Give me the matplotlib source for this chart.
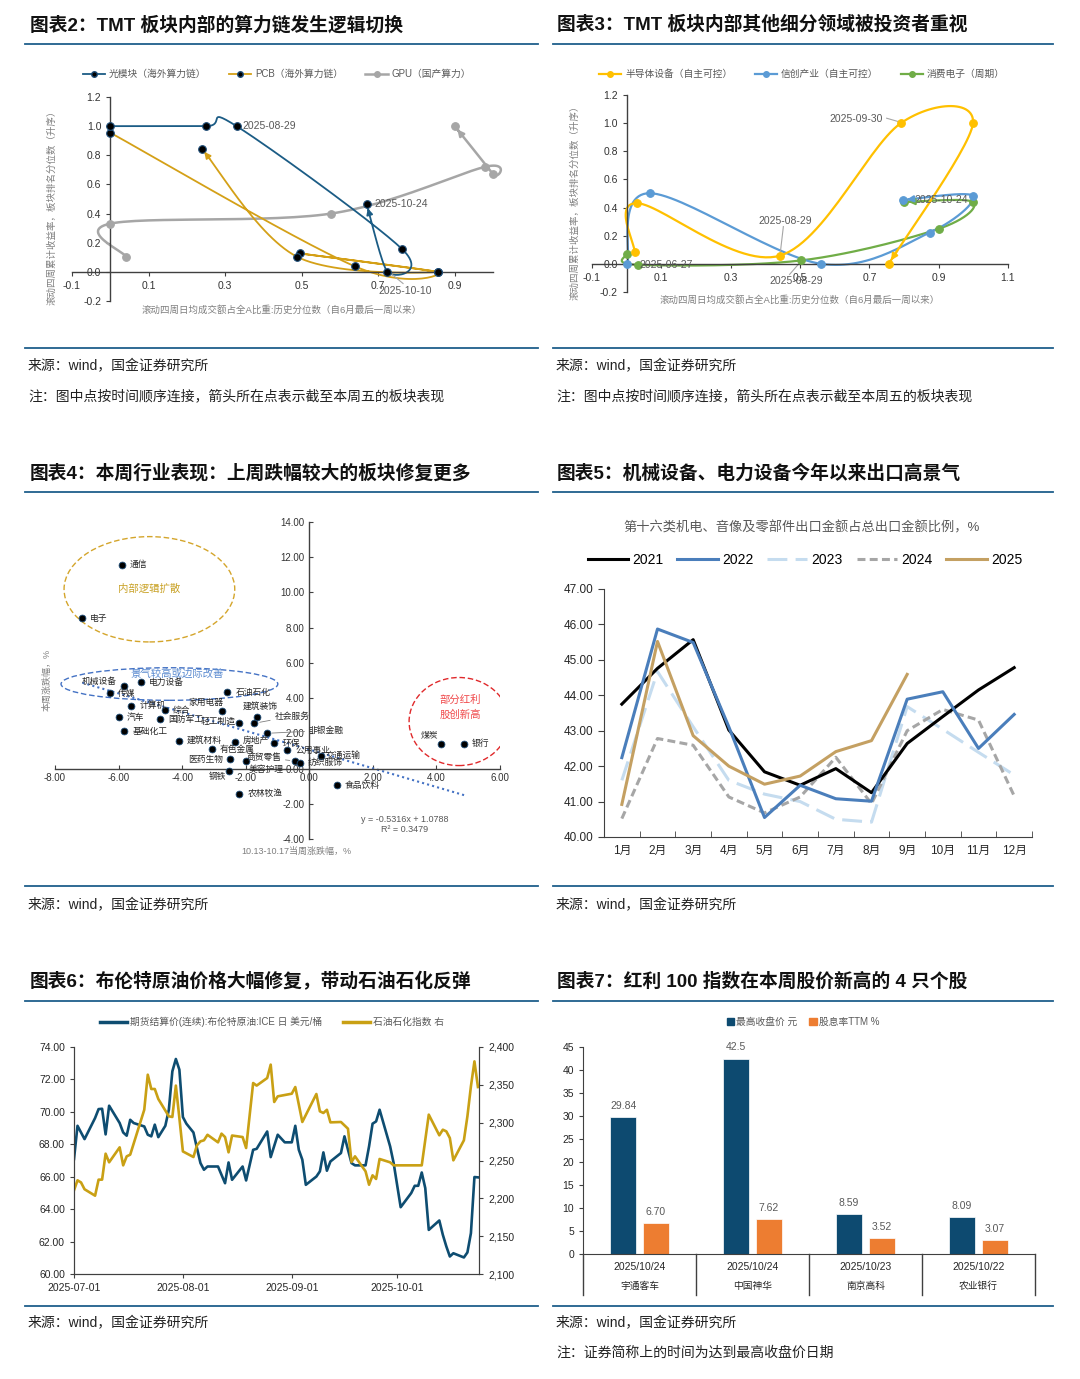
import numpy as np
import pandas as pd
import matplotlib
matplotlib.use("Agg")
import matplotlib.pyplot as plt
from matplotlib.lines import Line2D
from matplotlib.patches import Ellipse, Patch
import matplotlib.transforms as mtransforms
import matplotlib.dates as mdates

plt.rcParams["font.family"] = ["Liberation Sans", "Noto Sans CJK SC", "DejaVu Sans"]
plt.rcParams["axes.unicode_minus"] = False

# ---------------- data ----------------
# 图表2
gmk_x = [0.0, 0.25, 0.33, 0.763, 0.724, 0.67]
gmk_y = [1.0, 1.0, 1.0, 0.155, 0.0, 0.464]
pcb_x = [0.0, 0.64, 0.855, 0.496, 0.855, 0.487, 0.239]
pcb_y = [0.955, 0.037, 0.0, 0.126, 0.0, 0.105, 0.846]
gpu_x = [0.042, 0.0, 0.577, 0.978, 1.0, 0.90]
gpu_y = [0.103, 0.331, 0.40, 0.72, 0.67, 1.0]

# 图表3
semi_x = [0.023, 0.030, 0.443, 0.791, 0.999, 0.756]
semi_y = [0.085, 0.431, 0.059, 1.0, 1.0, 0.0]
xc_x = [0.002, 0.066, 0.561, 0.874, 0.999, 0.796]
xc_y = [0.0, 0.502, 0.0, 0.222, 0.483, 0.454]
ce_x = [0.0, 0.032, 0.502, 0.90, 0.999, 0.80]
ce_y = [0.071, -0.007, 0.024, 0.249, 0.44, 0.44]

# 图表4
industries = ['通信', '电子', '机械设备', '电力设备', '传媒', '计算机', '综合', '汽车', '国防军工',
              '基础化工', '石油石化', '家用电器', '轻工制造', '建筑装饰', '社会服务', '非银金融',
              '建筑材料', '房地产', '环保', '有色金属', '公用事业', '医药生物', '商贸零售',
              '纺织服饰', '交通运输', '美容护理', '钢铁', '农林牧渔', '食品饮料', '煤炭', '银行']
last_week = [-5.90, -7.14, -5.83, -5.29, -6.27, -5.60, -4.55, -5.99, -4.70,
             -5.82, -2.58, -2.75, -2.20, -1.66, -1.73, -1.34,
             -4.10, -2.33, -1.10, -3.06, -0.69, -2.48, -0.44,
             -0.29, 0.37, -2.00, -2.53, -2.20, 0.86, 4.15, 4.87]
this_week = [11.58, 8.53, 4.70, 4.91, 4.29, 3.56, 3.30, 2.90, 2.80,
             2.13, 4.32, 3.28, 2.61, 2.90, 2.57, 2.00,
             1.58, 1.49, 1.43, 1.09, 1.05, 0.53, 0.42,
             0.32, 0.70, 0.42, -0.13, -1.43, -0.95, 1.38, 1.42]
trend_k, trend_b = -0.5316, 1.0788

# 图表5
months = ['1月', '2月', '3月', '4月', '5月', '6月', '7月', '8月', '9月', '10月', '11月', '12月']
exp_2021 = [43.75, 44.76, 45.57, 43.02, 41.84, 41.46, 41.93, 41.25, 42.64, 43.40, 44.15, 44.78]
exp_2022 = [42.24, 45.87, 45.49, 43.11, 40.55, 41.46, 41.08, 41.01, 43.89, 44.10, 42.50, 43.46]
exp_2023 = [41.60, 44.67, 43.11, 41.60, 41.21, 41.00, 40.50, 40.42, 43.68, 43.04, 42.39, 41.75]
exp_2024 = [40.52, 42.78, 42.59, 41.13, 40.68, 41.13, 42.25, 40.94, 43.00, 43.60, 43.30, 41.16]
exp_2025 = [40.92, 45.52, 42.86, 42.00, 41.49, 41.72, 42.41, 42.72, 44.59]

# 图表6 (day offset from 2025-07-01)
oil_day = [0, 1, 3, 6, 7, 8, 9, 10, 13, 14, 15, 16, 17, 20, 21, 22, 23, 24, 26, 27,
           28, 29, 30, 31, 32, 34, 35, 36, 37, 38, 41, 43, 44, 45, 48, 49, 51, 52, 55, 56,
           58, 60, 62, 63, 64, 65, 66, 69, 70, 71, 72, 73, 76, 77, 79, 80, 83, 84, 85, 86,
           87, 90, 91, 93, 96, 97, 98, 99, 100, 101, 104, 105, 106, 107, 108, 111, 112, 113, 114, 115]
oil_price = [67.09, 69.14, 68.32, 69.62, 70.17, 70.19, 68.61, 70.38, 69.31, 68.73, 68.53, 69.51, 69.31, 69.10, 68.59, 68.49, 69.21, 68.44, 69.14, 70.13,
             72.50, 73.26, 72.60, 69.68, 69.27, 68.73, 67.77, 66.84, 66.43, 66.63, 66.63, 65.60, 66.88, 65.81, 66.63, 65.77, 67.66, 67.72, 68.79, 67.21,
             68.59, 68.12, 68.12, 69.14, 67.66, 67.05, 65.50, 66.01, 66.33, 67.50, 66.37, 66.94, 67.46, 68.49, 66.84, 66.70, 66.70, 67.87, 69.27, 69.41,
             70.13, 67.87, 66.84, 64.12, 64.99, 65.44, 65.44, 66.26, 65.30, 62.72, 63.30, 62.42, 61.70, 61.08, 61.28, 61.02, 61.33, 62.52, 65.98, 65.96]
idx_day = [0, 1, 2, 3, 6, 7, 8, 9, 10, 13, 14, 15, 16, 20, 21, 22, 23, 24, 27, 28,
           29, 30, 31, 34, 35, 36, 37, 38, 41, 42, 43, 44, 45, 48, 49, 51, 52, 55, 56, 57,
           58, 62, 63, 65, 69, 70, 71, 72, 73, 76, 78, 79, 80, 83, 84, 85, 86, 87, 90, 91,
           99, 101, 104, 105, 106, 107, 108, 111, 112, 113, 114, 115]
idx_val = [2210.6, 2223.8, 2221.0, 2212.0, 2203.5, 2224.7, 2224.7, 2259.0, 2247.6, 2267.4, 2243.6, 2255.5, 2257.7, 2317.0, 2363.4, 2344.5, 2344.5, 2331.3, 2308.4, 2307.5,
           2349.0, 2306.0, 2262.0, 2254.6, 2270.0, 2275.3, 2276.7, 2284.0, 2274.0, 2285.5, 2281.0, 2260.8, 2283.0, 2281.0, 2266.5, 2352.4, 2349.0, 2359.0, 2376.7, 2327.3,
           2334.8, 2338.3, 2347.1, 2300.9, 2337.9, 2315.0, 2312.8, 2317.0, 2300.4, 2300.9, 2292.0, 2248.0, 2255.5, 2235.7, 2218.0, 2230.4, 2225.6, 2252.0, 2247.6, 2243.6,
           2243.6, 2310.6, 2283.3, 2290.7, 2288.5, 2279.7, 2250.2, 2276.7, 2308.4, 2348.0, 2381.0, 2347.1]

# 图表7
stocks = ['宇通客车', '中国神华', '南京高科', '农业银行']
high_dates = ['2025/10/24', '2025/10/24', '2025/10/23', '2025/10/22']
high_close = [29.84, 42.5, 8.59, 8.09]
div_yield = [6.70, 7.62, 3.52, 3.07]
high_close_lbl = ['29.84', '42.5', '8.59', '8.09']
div_yield_lbl = ['6.70', '7.62', '3.52', '3.07']

# ---------------- layout helpers ----------------
W, H = 1080, 1379
fig = plt.figure(figsize=(W / 100, H / 100), dpi=100)
RULE = '#1F5F8B'
GRAY = '#595959'
LGRAY = '#7F7F7F'


def box(l, t, w, h):
    return fig.add_axes([l / W, 1 - (t + h) / H, w / W, h / H])


def txt(x, y, s, **kw):
    kw.setdefault('va', 'center')
    return fig.text(x / W, 1 - y / H, s, **kw)


def rule(y, x0, x1):
    fig.add_artist(Line2D([x0 / W, x1 / W], [1 - y / H] * 2, color=RULE, lw=1.3))


def catmull(xs, ys, sx, sy, n=30):
    p = np.column_stack([np.asarray(xs) * sx, np.asarray(ys) * sy])
    p = np.vstack([p[0], p, p[-1]])
    t = np.linspace(0, 1, n)[:, None]
    segs = []
    for i in range(1, len(p) - 2):
        p0, p1, p2, p3 = p[i - 1], p[i], p[i + 1], p[i + 2]
        segs.append(0.5 * (2 * p1 + (p2 - p0) * t + (2 * p0 - 5 * p1 + 4 * p2 - p3) * t ** 2
                           + (3 * p1 - p0 - 3 * p2 + p3) * t ** 3))
    c = np.vstack(segs)
    return c[:, 0] / sx, c[:, 1] / sy


def track(ax, xs, ys, color, mfc, mec, sx, sy, lw=1.3, ms=5.5):
    cx, cy = catmull(xs, ys, sx, sy)
    ax.plot(cx, cy, color=color, lw=lw, zorder=2, solid_capstyle='round', clip_on=False)
    ax.plot(xs, ys, 'o', ms=ms, mfc=mfc, mec=mec, mew=0.8, ls='none', zorder=3, clip_on=False)
    ax.annotate('', xy=(cx[-1], cy[-1]), xytext=(cx[-5], cy[-5]),
                arrowprops=dict(arrowstyle='-|>', color=color, lw=lw, mutation_scale=9,
                                shrinkA=0, shrinkB=3), zorder=4)


def zero_axes(ax):
    ax.spines['left'].set_position(('data', 0))
    ax.spines['bottom'].set_position(('data', 0))
    ax.spines['top'].set_visible(False)
    ax.spines['right'].set_visible(False)
    for s in ('left', 'bottom'):
        ax.spines[s].set_color('#404040')
        ax.spines[s].set_linewidth(1.0)
    ax.patch.set_alpha(0)


# ---------------- frame texts ----------------
titles = [(30, 25, '图表2：TMT 板块内部的算力链发生逻辑切换'),
          (557, 25, '图表3：TMT 板块内部其他细分领域被投资者重视'),
          (30, 473, '图表4：本周行业表现：上周跌幅较大的板块修复更多'),
          (557, 473, '图表5：机械设备、电力设备今年以来出口高景气'),
          (30, 982, '图表6：布伦特原油价格大幅修复，带动石油石化反弹'),
          (557, 982, '图表7：红利 100 指数在本周股价新高的 4 只个股')]
for x, y, s in titles:
    txt(x, y, s, fontsize=13.5, fontweight='bold', color='#111111')
for y in (44, 348, 492, 886, 1001, 1306):
    rule(y, 25, 538)
    rule(y, 553, 1053)
src = '来源：wind，国金证券研究所'
for x in (28, 556):
    txt(x, 366, src, fontsize=10, color='#222222')
    txt(x, 396, '注：图中点按时间顺序连接，箭头所在点表示截至本周五的板块表现', fontsize=10, color='#222222')
    txt(x, 905, src, fontsize=10, color='#222222')
    txt(x, 1323, src, fontsize=10, color='#222222')
txt(556, 1353, '注：证券简称上的时间为达到最高收盘价日期', fontsize=10, color='#222222')

# ---------------- 图表2 ----------------
ax1 = box(72, 97, 421, 204)
ax1.set_xlim(-0.1, 1.0)
ax1.set_ylim(-0.2, 1.2)
zero_axes(ax1)
sx1, sy1 = 421 / 1.1, 204 / 1.4
track(ax1, gpu_x, gpu_y, '#A6A6A6', '#A6A6A6', '#A6A6A6', sx1, sy1, lw=1.8)
track(ax1, pcb_x, pcb_y, '#D4A017', 'black', '#1F4E79', sx1, sy1)
track(ax1, gmk_x, gmk_y, '#1B5C85', 'black', '#1F4E79', sx1, sy1)
ax1.set_xticks([-0.1, 0.1, 0.3, 0.5, 0.7, 0.9])
ax1.set_xticklabels(['-0.1', '0.1', '0.3', '0.5', '0.7', '0.9'])
yt = np.round(np.arange(-0.2, 1.21, 0.2), 1)
ax1.set_yticks(yt)
ax1.set_yticklabels([f'{v:.1f}' for v in yt])
ax1.tick_params(labelsize=7.5, colors='#404040', length=3, labelcolor='#333333')
ax1.text(0.345, 1.0, '2025-08-29', fontsize=7.5, color=GRAY, va='center')
ax1.text(0.69, 0.465, '2025-10-24', fontsize=7.5, color=GRAY, va='center')
ax1.plot([0.735, 0.765], [-0.015, -0.08], color='#A6A6A6', lw=0.8)
ax1.text(0.77, -0.13, '2025-10-10', fontsize=7.5, color=GRAY, va='center', ha='center')
h1 = [Line2D([], [], color='#1B5C85', marker='o', mfc='black', mec='#1F4E79', ms=4, lw=1.3),
      Line2D([], [], color='#D4A017', marker='o', mfc='black', mec='#1F4E79', ms=4, lw=1.3),
      Line2D([], [], color='#A6A6A6', marker='o', mfc='#A6A6A6', mec='#A6A6A6', ms=4, lw=1.8)]
fig.legend(h1, ['光模块（海外算力链）', 'PCB（海外算力链）', 'GPU（国产算力）'], loc='center',
           bbox_to_anchor=(277 / W, 1 - 74 / H), ncol=3, frameon=False, fontsize=7,
           labelcolor=GRAY, handlelength=2.3, columnspacing=2.3, handletextpad=0.4)
txt(52, 205, '滚动四周累计收益率，板块排名分位数（升序）', fontsize=6.8, color=LGRAY, rotation=90, ha='center')
txt(282, 310, '滚动四周日均成交额占全A比重:历史分位数（自6月最后一周以来）', fontsize=6.8, color=LGRAY, ha='center')

# ---------------- 图表3 ----------------
ax2 = box(592, 95, 416, 197)
ax2.set_xlim(-0.1, 1.1)
ax2.set_ylim(-0.2, 1.2)
zero_axes(ax2)
sx2, sy2 = 416 / 1.2, 197 / 1.4
track(ax2, ce_x, ce_y, '#70AD47', '#70AD47', '#70AD47', sx2, sy2, lw=1.6)
track(ax2, xc_x, xc_y, '#5B9BD5', '#5B9BD5', '#5B9BD5', sx2, sy2, lw=1.6)
track(ax2, semi_x, semi_y, '#FFC000', '#FFC000', '#FFC000', sx2, sy2, lw=1.6)
xt2 = np.round(np.arange(-0.1, 1.11, 0.2), 1)
ax2.set_xticks(xt2)
ax2.set_xticklabels([f'{v:.1f}' for v in xt2])
ax2.set_yticks(yt)
ax2.set_yticklabels([f'{v:.1f}' for v in yt])
ax2.tick_params(labelsize=7.5, colors='#404040', length=3, labelcolor='#333333')
ax2.text(0.74, 1.03, '2025-09-30', fontsize=7.5, color=GRAY, va='center', ha='right')
ax2.plot([0.75, 0.785], [1.035, 1.01], color='#A6A6A6', lw=0.8)
ax2.text(0.457, 0.305, '2025-08-29', fontsize=7.5, color=GRAY, va='center', ha='center')
ax2.plot([0.452, 0.443], [0.265, 0.075], color='#A6A6A6', lw=0.8)
ax2.text(0.49, -0.12, '2025-08-29', fontsize=7.5, color=GRAY, va='center', ha='center')
ax2.plot([0.50, 0.47], [0.01, -0.075], color='#A6A6A6', lw=0.8)
ax2.text(0.036, -0.005, '2025-06-27', fontsize=7.5, color=GRAY, va='center', ha='left')
ax2.text(0.83, 0.455, '2025-10-24', fontsize=7.5, color=GRAY, va='center', ha='left')
h2 = [Line2D([], [], color=c, marker='o', mfc=c, mec=c, ms=4, lw=1.6) for c in ('#FFC000', '#5B9BD5', '#70AD47')]
fig.legend(h2, ['半导体设备（自主可控）', '信创产业（自主可控）', '消费电子（周期）'], loc='center',
           bbox_to_anchor=(802 / W, 1 - 74 / H), ncol=3, frameon=False, fontsize=7,
           labelcolor=GRAY, handlelength=2.3, columnspacing=2.3, handletextpad=0.4)
txt(575, 200, '滚动四周累计收益率，板块排名分位数（升序）', fontsize=6.8, color=LGRAY, rotation=90, ha='center')
txt(800, 300, '滚动四周日均成交额占全A比重:历史分位数（自6月最后一周以来）', fontsize=6.8, color=LGRAY, ha='center')

# ---------------- 图表4 ----------------
ax3 = box(55, 522, 445, 317)
ax3.set_xlim(-8, 6)
ax3.set_ylim(-4, 14)
zero_axes(ax3)
xt3 = np.arange(-8, 6.1, 2)
yt3 = np.arange(-4, 14.1, 2)
ax3.set_xticks(xt3)
ax3.set_xticklabels([f'{v:.2f}' for v in xt3])
ax3.set_yticks(yt3)
ax3.set_yticklabels([f'{v:.2f}' for v in yt3])
ax3.tick_params(direction='in', labelsize=7, colors='#404040', length=3, labelcolor='#333333')
lx = np.array(last_week)
ax3.plot([lx.min(), lx.max()], [trend_k * lx.min() + trend_b, trend_k * lx.max() + trend_b],
         ls=(0, (1, 1.5)), color='#4472C4', lw=1.5, zorder=2)
ax3.scatter(last_week, this_week, s=24, c='black', edgecolors='#1F4E79', linewidths=0.6, zorder=3)
# label placement (offset pixels, alignment, leader)
place = {'机械设备': (-7, 4, 'right'), '医药生物': (-7, 0, 'right'), '钢铁': (-3, -6, 'right'),
         '美容护理': (3, -8, 'left'), '家用电器': (2, 8, 'right'), '轻工制造': (-4, 1, 'right'),
         '建筑装饰': (4, 11, 'center'), '煤炭': (-3, 9, 'right'), '交通运输': (5, 1, 'left'),
         '房地产': (8, 2, 'left')}
leader = {'社会服务': (20, 7, 'left'), '非银金融': (42, 3, 'left'), '商贸零售': (-14, 4, 'right')}
for name, xv, yv in zip(industries, last_week, this_week):
    if name in leader:
        dx, dy, ha = leader[name]
        ax3.annotate(name, (xv, yv), xytext=(dx, dy), textcoords='offset pixels', fontsize=6.3,
                     ha=ha, va='center', color='#262626',
                     arrowprops=dict(arrowstyle='-', color='#7F7F7F', lw=0.6, shrinkA=1, shrinkB=4))
    else:
        dx, dy, ha = place.get(name, (8, 0, 'left'))
        ax3.annotate(name, (xv, yv), xytext=(dx, dy), textcoords='offset pixels', fontsize=6.3,
                     ha=ha, va='center', color='#262626')
ax3.add_patch(Ellipse((-5.03, 10.18), 5.37, 5.98, fill=False, ec='#D4A52B', lw=1.0, ls=(0, (4, 2))))
ax3.add_patch(Ellipse((-4.40, 4.80), 6.82, 1.85, fill=False, ec='#4472C4', lw=1.0, ls=(0, (4, 2))))
ax3.add_patch(Ellipse((4.71, 2.67), 3.14, 5.0, fill=False, ec='#E0292B', lw=1.0, ls=(0, (4, 2))))
ax3.text(-5.03, 10.2, '内部逻辑扩散', fontsize=7.5, color='#C9A227', ha='center', va='center')
ax3.text(-4.17, 5.41, '景气较高或边际改善', fontsize=7.5, color='#5B8BD0', ha='center', va='center')
ax3.text(4.74, 3.9, '部分红利', fontsize=7.5, color='#F0484A', ha='center', va='center')
ax3.text(4.74, 3.08, '股创新高', fontsize=7.5, color='#F0484A', ha='center', va='center')
ax3.text(3.0, -2.87, 'y = -0.5316x + 1.0788', fontsize=6.5, color=GRAY, ha='center', va='center')
ax3.text(3.0, -3.48, 'R² = 0.3479', fontsize=6.5, color=GRAY, ha='center', va='center')
txt(47, 680, '本周涨跌幅，%', fontsize=6.5, color=LGRAY, rotation=90, ha='center')
txt(296, 851, '10.13-10.17当周涨跌幅，%', fontsize=6.5, color=LGRAY, ha='center')

# ---------------- 图表5 ----------------
ax4 = box(604, 589, 428, 248)
mx = np.arange(1, 13)
ax4.plot(mx, exp_2023, color='#C5DCEF', lw=2.2, dashes=(6.5, 2.7), label='2023')
ax4.plot(mx, exp_2024, color='#A6A6A6', lw=2.2, dashes=(2.6, 1.4), label='2024')
ax4.plot(mx, exp_2021, color='black', lw=2.2, label='2021')
ax4.plot(mx, exp_2022, color='#4A7EBB', lw=2.2, label='2022')
ax4.plot(mx[:len(exp_2025)], exp_2025, color='#C4A062', lw=2.2, label='2025')
ax4.set_xlim(0.5, 12.5)
ax4.set_ylim(40, 47)
ax4.set_yticks(np.arange(40, 47.1, 1))
ax4.set_yticklabels([f'{v:.2f}' for v in np.arange(40, 47.1, 1)])
ax4.set_xticks(mx)
ax4.set_xticklabels(months)
ax4.set_xticks(np.arange(0.5, 12.6, 1), minor=True)
ax4.tick_params(axis='x', which='major', length=0, pad=6)
ax4.tick_params(axis='x', which='minor', direction='in', length=4, color='#404040')
ax4.tick_params(axis='y', length=4, color='#404040')
ax4.tick_params(labelsize=8.5, labelcolor='#262626')
for s in ('top', 'right'):
    ax4.spines[s].set_visible(False)
for s in ('left', 'bottom'):
    ax4.spines[s].set_color('#404040')
hs, ls_ = ax4.get_legend_handles_labels()
order = [ls_.index(k) for k in ('2021', '2022', '2023', '2024', '2025')]
ax4.legend([hs[i] for i in order], [ls_[i] for i in order], loc='center',
           bbox_to_anchor=(805 / W, 1 - 560 / H), bbox_transform=fig.transFigure, ncol=5,
           frameon=False, fontsize=10, handlelength=2.9, columnspacing=1.0, handletextpad=0.3)
txt(802, 528, '第十六类机电、音像及零部件出口金额占总出口金额比例，%', fontsize=9.5, color=GRAY, ha='center')

# ---------------- 图表6 ----------------
start = pd.Timestamp('2025-07-01')
oil_dt = start + pd.to_timedelta(oil_day, unit='D')
idx_dt = start + pd.to_timedelta(idx_day, unit='D')
ax5 = box(74, 1047, 405, 227)
ax5b = ax5.twinx()
ax5.plot(oil_dt, oil_price, color='#0E4D71', lw=1.9)
ax5b.plot(idx_dt, idx_val, color='#C9A014', lw=1.9)
ax5.set_xlim(start, start + pd.Timedelta(days=115.3))
ax5.set_ylim(60, 74)
ax5b.set_ylim(2100, 2400)
ax5.set_yticks(np.arange(60, 74.1, 2))
ax5.set_yticklabels([f'{v:.2f}' for v in np.arange(60, 74.1, 2)])
ax5b.set_yticks(np.arange(2100, 2401, 50))
ax5b.set_yticklabels([f'{v:,}' for v in range(2100, 2401, 50)])
dticks = [pd.Timestamp(d) for d in ('2025-07-01', '2025-08-01', '2025-09-01', '2025-10-01')]
ax5.set_xticks(dticks)
ax5.xaxis.set_major_formatter(mdates.DateFormatter('%Y-%m-%d'))
for a in (ax5, ax5b):
    a.spines['top'].set_visible(False)
    for s in ('left', 'right', 'bottom'):
        a.spines[s].set_color('#404040')
    a.tick_params(labelsize=7.5, length=3, color='#404040', labelcolor='#262626')
h5 = [Line2D([], [], color='#0E4D71', lw=2.5), Line2D([], [], color='#C9A014', lw=2.5)]
fig.legend(h5, ['期货结算价(连续):布伦特原油:ICE 日 美元/桶', '石油石化指数 右'], loc='center',
           bbox_to_anchor=(272 / W, 1 - 1022 / H), ncol=2, frameon=False, fontsize=7,
           labelcolor=GRAY, handlelength=2.8, columnspacing=2.2, handletextpad=0.3)

# ---------------- 图表7 ----------------
ax6 = box(583, 1047, 452, 207)
cx6 = np.arange(len(stocks))
b1 = ax6.bar(cx6 - 0.145, high_close, width=0.23, color='#0D4A70', edgecolor='white', lw=0.5)
b2 = ax6.bar(cx6 + 0.145, div_yield, width=0.23, color='#ED7D31', edgecolor='white', lw=0.5)
for bars, lbls in ((b1, high_close_lbl), (b2, div_yield_lbl)):
    for b, s in zip(bars, lbls):
        ax6.annotate(s, (b.get_x() + b.get_width() / 2, b.get_height()), xytext=(0, 11),
                     textcoords='offset pixels', ha='center', va='center', fontsize=7.5, color=GRAY)
ax6.set_xlim(-0.5, 3.5)
ax6.set_ylim(0, 45)
ax6.set_yticks(np.arange(0, 46, 5))
ax6.set_xticks([])
ax6.tick_params(labelsize=7.5, length=3, color='#404040', labelcolor='#262626')
for s in ('top', 'right'):
    ax6.spines[s].set_visible(False)
for s in ('left', 'bottom'):
    ax6.spines[s].set_color('#404040')
tr6 = mtransforms.blended_transform_factory(ax6.transData, ax6.transAxes)
for xb in np.arange(-0.5, 3.6, 1):
    ax6.plot([xb, xb], [0, -0.2], transform=tr6, clip_on=False, color='#404040', lw=1.0)
for i in range(len(stocks)):
    ax6.text(i, -0.063, high_dates[i], transform=tr6, ha='center', va='center', fontsize=7.5, color='#262626')
    ax6.text(i, -0.155, stocks[i], transform=tr6, ha='center', va='center', fontsize=7, color='#262626')
h6 = [Patch(color='#0D4A70'), Patch(color='#ED7D31')]
fig.legend(h6, ['最高收盘价 元', '股息率TTM %'], loc='center', bbox_to_anchor=(803 / W, 1 - 1022 / H),
           ncol=2, frameon=False, fontsize=7, labelcolor=GRAY, handlelength=0.8, handleheight=0.8,
           columnspacing=1.2, handletextpad=0.2)

fig.savefig('out.png', dpi=100)
